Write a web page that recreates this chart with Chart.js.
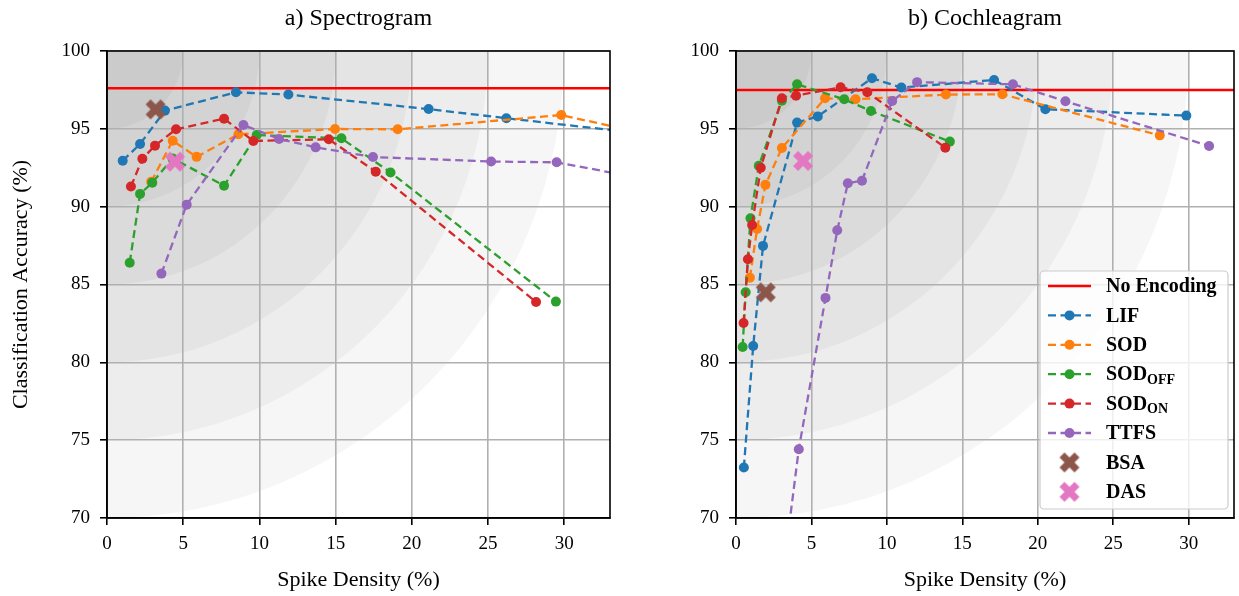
<!DOCTYPE html>
<html>
<head>
<meta charset="utf-8">
<title>Spike encoding accuracy</title>
<script src="https://cdn.jsdelivr.net/npm/chart.js@4.4.1/dist/chart.umd.min.js"></script>
<style>
  body { margin: 0; background: #fff; }
  canvas { position: absolute; top: 0; }
  #spec { left: 0; }
  #coch { left: 620px; }
</style>
</head>
<body>
<canvas id="spec" width="620" height="596"></canvas>
<canvas id="coch" width="619" height="596"></canvas>
<script>
// values: x = spike density (%), y = classification accuracy (%)
const seriesNames = ["LIF", "SOD", "SOD_OFF", "SOD_ON", "TTFS"];
const seriesColors = ["#1f77b4", "#ff7f0e", "#2ca02c", "#d62728", "#9467bd"];

// a) Spectrogram
const specLifX = [1.03, 2.17, 3.8, 8.46, 11.9, 21.1, 26.2, 36.0];
const specLifY = [92.95, 94.03, 96.17, 97.35, 97.2, 96.27, 95.68, 94.6];
const specSodX = [2.9, 4.31, 5.88, 8.62, 14.96, 19.07, 29.8, 35.0];
const specSodY = [91.6, 94.24, 93.2, 94.65, 94.99, 94.97, 95.89, 94.75];
const specSodOffX = [1.49, 2.17, 2.97, 4.3, 7.68, 9.82, 15.38, 18.6, 29.45];
const specSodOffY = [86.4, 90.82, 91.54, 93.1, 91.35, 94.6, 94.39, 92.2, 83.9];
const specSodOnX = [1.57, 2.32, 3.15, 4.53, 7.68, 9.6, 14.55, 17.63, 28.15];
const specSodOnY = [91.29, 93.08, 93.92, 94.97, 95.65, 94.22, 94.33, 92.25, 83.88];
const specTtfsX = [3.57, 5.23, 8.95, 11.29, 13.69, 17.45, 25.2, 29.5, 36.0];
const specTtfsY = [85.7, 90.13, 95.25, 94.35, 93.81, 93.19, 92.9, 92.85, 91.65];
const specBsa = [3.19, 96.25];
const specDas = [4.46, 92.89];
const specNoEncoding = 97.6;

// b) Cochleagram
const cochLifX = [0.52, 1.14, 1.79, 4.05, 5.42, 9.01, 10.96, 17.1, 20.5, 29.84];
const cochLifY = [73.24, 81.05, 87.48, 95.4, 95.8, 98.25, 97.65, 98.14, 96.26, 95.85];
const cochSodX = [0.92, 1.4, 1.95, 3.04, 5.9, 7.92, 13.91, 17.65, 28.08];
const cochSodY = [85.44, 88.57, 91.4, 93.77, 96.96, 96.9, 97.2, 97.22, 94.58];
const cochSodOffX = [0.44, 0.64, 0.96, 1.51, 3.04, 4.05, 7.17, 8.94, 14.17];
const cochSodOffY = [80.99, 84.5, 89.25, 92.63, 96.8, 97.86, 96.9, 96.15, 94.18];
const cochSodOnX = [0.5, 0.79, 1.07, 1.64, 3.04, 3.98, 6.93, 8.7, 13.87];
const cochSodOnY = [82.53, 86.62, 88.82, 92.5, 96.96, 97.13, 97.67, 97.35, 93.79];
const cochTtfsX = [3.0, 4.16, 5.93, 6.71, 7.41, 8.35, 10.35, 12.0, 18.35, 21.83, 31.35];
const cochTtfsY = [65.5, 74.42, 84.14, 88.48, 91.5, 91.67, 96.79, 98.0, 97.86, 96.77, 93.9];
const cochBsa = [1.97, 84.5];
const cochDas = [4.44, 92.94];
const cochNoEncoding = 97.5;

const xTicks = [0, 5, 10, 15, 20, 25, 30];
const xMax = 33;
const yTicks = [70, 75, 80, 85, 90, 95, 100];
// shaded rings centred on (0, 100), radius in data units
const ringRadii = [30, 25, 20, 15, 10, 5];

const FONT = "'Liberation Serif', 'DejaVu Serif', serif";
Chart.defaults.color = "#000";
Chart.defaults.font.family = FONT;

function zip(xs, ys) {
  return xs.map((x, i) => ({ x: x, y: ys[i] }));
}

// matplotlib style filled "X" marker
function makeXMarker(color, size) {
  const c = document.createElement("canvas");
  c.width = c.height = size + 2;
  const g = c.getContext("2d");
  const verts = [[-1, -2], [0, -1], [1, -2], [2, -1], [1, 0], [2, 1],
    [1, 2], [0, 1], [-1, 2], [-2, 1], [-1, 0], [-2, -1]];
  g.translate(c.width / 2, c.height / 2);
  g.beginPath();
  verts.forEach(([vx, vy], i) => {
    const px = vx / 4 * size, py = vy / 4 * size;
    if (i) g.lineTo(px, py); else g.moveTo(px, py);
  });
  g.closePath();
  g.fillStyle = color;
  g.fill();
  return c;
}
const bsaMarker = makeXMarker("#8c564b", 20);
const dasMarker = makeXMarker("#e377c2", 20);

const ringsPlugin = {
  id: "rings",
  beforeDraw(chart) {
    const { ctx, chartArea: a, scales: { x, y } } = chart;
    ctx.save();
    ctx.fillStyle = "#fff";
    ctx.fillRect(0, 0, chart.width, chart.height);
    ctx.beginPath();
    ctx.rect(a.left, a.top, a.right - a.left, a.bottom - a.top);
    ctx.clip();
    const cx = x.getPixelForValue(0), cy = y.getPixelForValue(100);
    ringRadii.forEach(r => {
      const rx = x.getPixelForValue(r) - cx;
      const ry = y.getPixelForValue(100 - r) - cy;
      ctx.beginPath();
      ctx.ellipse(cx, cy, rx, ry, 0, 0, Math.PI * 2);
      ctx.fillStyle = "rgba(0,0,0,0.035)";
      ctx.fill();
    });
    ctx.restore();
  },
  afterDatasetsDraw(chart) {
    const { ctx, chartArea: a } = chart;
    ctx.save();
    ctx.strokeStyle = "#000";
    ctx.lineWidth = 1.6;
    ctx.strokeRect(a.left, a.top, a.right - a.left, a.bottom - a.top);
    ctx.restore();
  }
};

const legendPlugin = {
  id: "boxLegend",
  afterDraw(chart) {
    const { ctx, chartArea: a } = chart;
    const left = a.right - 194, top = a.bottom - 247, w = 188, h = 238;
    ctx.save();
    ctx.fillStyle = "rgba(255,255,255,0.8)";
    ctx.strokeStyle = "#cccccc";
    ctx.lineWidth = 1.2;
    ctx.beginPath();
    ctx.roundRect(left, top, w, h, 4);
    ctx.fill();
    ctx.stroke();

    const rows = [{ label: "No Encoding", color: "#ff0000", kind: "solid" }];
    seriesNames.forEach((n, i) => rows.push({ label: n, color: seriesColors[i], kind: "dash" }));
    rows.push({ label: "BSA", kind: "img", img: bsaMarker });
    rows.push({ label: "DAS", kind: "img", img: dasMarker });

    const x0 = left + 8, x1 = left + 51, xm = left + 29.5, xt = left + 66;
    rows.forEach((row, i) => {
      const yy = top + 15 + i * 29.4;
      if (row.kind === "solid") {
        ctx.setLineDash([]);
        ctx.strokeStyle = row.color;
        ctx.lineWidth = 2.5;
        ctx.beginPath(); ctx.moveTo(x0, yy); ctx.lineTo(x1, yy); ctx.stroke();
      } else if (row.kind === "dash") {
        ctx.setLineDash([8, 4.5]);
        ctx.strokeStyle = row.color;
        ctx.lineWidth = 2.3;
        ctx.beginPath(); ctx.moveTo(x0, yy); ctx.lineTo(x1, yy); ctx.stroke();
        ctx.setLineDash([]);
        ctx.fillStyle = row.color;
        ctx.beginPath(); ctx.arc(xm, yy, 5, 0, Math.PI * 2); ctx.fill();
      } else {
        ctx.drawImage(row.img, xm - row.img.width / 2, yy - row.img.height / 2);
      }
      const parts = row.label.split("_");
      ctx.fillStyle = "#000";
      ctx.textBaseline = "middle";
      ctx.textAlign = "left";
      ctx.font = "bold 20px " + FONT;
      ctx.fillText(parts[0], xt, yy + 1);
      if (parts[1]) {
        const wMain = ctx.measureText(parts[0]).width;
        ctx.font = "bold 14px " + FONT;
        ctx.fillText(parts[1], xt + wMain, yy + 6);
      }
    });
    ctx.restore();
  }
};

function makeChart(id, cfg) {
  const lines = cfg.series.map((s, i) => ({
    label: seriesNames[i],
    data: zip(s[0], s[1]),
    showLine: true,
    borderColor: seriesColors[i],
    backgroundColor: seriesColors[i],
    borderWidth: 2.3,
    borderDash: [8, 4.5],
    pointRadius: 5,
    pointBorderWidth: 0,
    pointBackgroundColor: seriesColors[i],
    order: 20 - i
  }));
  const datasets = [{
    label: "No Encoding",
    data: zip([0, xMax], [cfg.noEnc, cfg.noEnc]),
    showLine: true,
    borderColor: "#ff0000",
    borderWidth: 2.5,
    pointRadius: 0,
    order: 30
  }].concat(lines, [
    { label: "BSA", data: zip([cfg.bsa[0]], [cfg.bsa[1]]), pointStyle: bsaMarker, order: 5 },
    { label: "DAS", data: zip([cfg.das[0]], [cfg.das[1]]), pointStyle: dasMarker, order: 4 }
  ]);

  return new Chart(document.getElementById(id), {
    type: "scatter",
    data: { datasets },
    options: {
      responsive: false,
      animation: false,
      devicePixelRatio: 1,
      layout: { padding: { left: 0, right: cfg.padRight, top: 0, bottom: 0 } },
      plugins: {
        legend: { display: false },
        tooltip: { enabled: false },
        title: {
          display: true,
          text: cfg.title,
          fullSize: false,
          font: { size: 24, weight: "normal" },
          padding: { top: 4.5, bottom: 17.7 }
        }
      },
      scales: {
        x: {
          type: "linear",
          min: 0,
          max: xMax,
          afterBuildTicks: s => { s.ticks = xTicks.map(v => ({ value: v })); },
          afterFit: s => { s.height = 78; },
          ticks: { font: { size: 19 }, padding: 8 },
          grid: { color: "#b0b0b0", lineWidth: 1.6, tickColor: "#000", tickLength: 7, tickWidth: 1.6 },
          border: { display: true, color: "#000", width: 1.6 },
          title: { display: true, text: "Spike Density (%)", font: { size: 22 }, padding: { top: 0, bottom: 3 } }
        },
        y: {
          type: "linear",
          min: 70,
          max: 100,
          afterBuildTicks: s => { s.ticks = yTicks.map(v => ({ value: v })); },
          afterFit: s => { s.width = cfg.yWidth; },
          ticks: { font: { size: 19 }, padding: 10 },
          grid: { color: "#b0b0b0", lineWidth: 1.6, tickColor: "#000", tickLength: 7, tickWidth: 1.6 },
          border: { display: true, color: "#000", width: 1.6 },
          title: { display: !!cfg.yTitle, text: cfg.yTitle || "", font: { size: 22 }, padding: { top: 8.5, bottom: 0 } }
        }
      }
    },
    plugins: cfg.legend ? [ringsPlugin, legendPlugin] : [ringsPlugin]
  });
}

makeChart("spec", {
  title: "a) Spectrogram",
  yTitle: "Classification Accuracy (%)",
  yWidth: 107,
  padRight: 10,
  noEnc: specNoEncoding,
  bsa: specBsa,
  das: specDas,
  series: [[specLifX, specLifY], [specSodX, specSodY], [specSodOffX, specSodOffY],
    [specSodOnX, specSodOnY], [specTtfsX, specTtfsY]],
  legend: false
});

makeChart("coch", {
  title: "b) Cochleagram",
  yTitle: null,
  yWidth: 116,
  padRight: 2,
  noEnc: cochNoEncoding,
  bsa: cochBsa,
  das: cochDas,
  series: [[cochLifX, cochLifY], [cochSodX, cochSodY], [cochSodOffX, cochSodOffY],
    [cochSodOnX, cochSodOnY], [cochTtfsX, cochTtfsY]],
  legend: true
});
</script>
</body>
</html>
